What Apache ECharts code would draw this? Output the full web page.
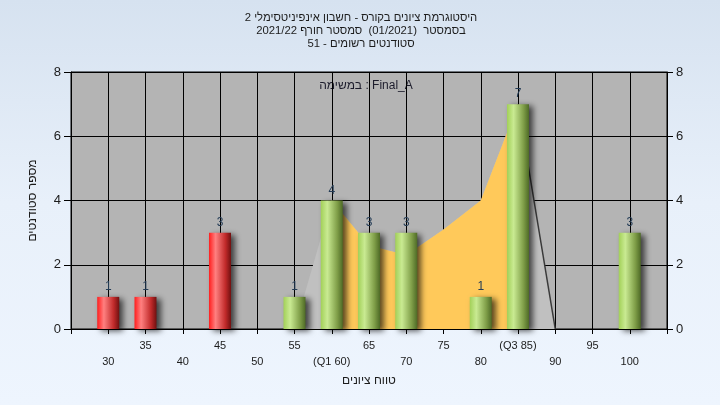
<!DOCTYPE html>
<html><head><meta charset="utf-8">
<script src="https://cdn.jsdelivr.net/npm/echarts@6/dist/echarts.min.js"></script>
<style>
html,body{margin:0;padding:0;}
body{width:720px;height:405px;background:linear-gradient(180deg,#d6e2f0 0%,#e8f0fa 50%,#eef5fe 100%);}
#c{width:720px;height:405px;}
</style>
</head><body><div id="c"></div>
<script>
// ---- data ----
const categories = ['25','30','35','40','45','50','55','60','65','70','75','80','85','90','95','100','105'];
const tickLabels = ['','30','35','40','45','50','55','(Q1 60)','65','70','75','80','(Q3 85)','90','95','100',''];
const counts = [null,1,1,null,3,null,1,4,3,3,null,1,7,null,null,3,null];
const polygonAll = [null,null,null,null,null,null,0,4,2.6,2.3,3.1,4,7,0,null,null,null];
const iqrArea = [null,null,null,null,null,null,null,4,2.6,2.3,3.1,4,7,null,null,null,null];
const dropLine = [null,null,null,null,null,null,null,null,null,null,null,null,7,0,null,null,null];
const passMark = 55;
const titleLines = [
  'היסטוגרמת ציונים בקורס - חשבון אינפיניטסימלי 2',
  'בסמסטר  (01/2021)  סמסטר חורף 2021/22',
  'סטודנטים רשומים - 51'
];
const taskText = 'במשימה : Final_A';
const yName = 'מספר סטודנטים';
const xName = 'טווח ציונים';

const FONT = '"Liberation Sans", Arial, sans-serif';
const TITLE_SIZE = 11.3;

// title lines laid out right-to-left, one word at a time
const mctx = document.createElement('canvas').getContext('2d');
mctx.font = TITLE_SIZE + 'px ' + FONT;
const titleGraphics = [];
titleLines.forEach((line, li) => {
  const toks = line.split(' ');
  const sp = mctx.measureText(' ').width;
  const widths = toks.map(t => t ? mctx.measureText(t).width : 0);
  const total = widths.reduce((a, b) => a + b, 0) + sp * (toks.length - 1);
  let xr = 361 + total / 2;
  toks.forEach((t, i) => {
    xr -= widths[i];
    if (t) titleGraphics.push({
      type: 'text', x: xr, y: 18 + li * 13, silent: true,
      style: { text: t, fontSize: TITLE_SIZE, fontFamily: FONT, fill: '#1c1c1c', align: 'left', verticalAlign: 'middle' }
    });
    xr -= sp;
  });
});

const redGrad = new echarts.graphic.LinearGradient(0,0,1,0,[
  {offset:0,color:'#ff1e1e'},{offset:0.3,color:'#ff8080'},{offset:0.75,color:'#c02a2a'},{offset:1,color:'#701010'}]);
const greenGrad = new echarts.graphic.LinearGradient(0,0,1,0,[
  {offset:0,color:'#a2d058'},{offset:0.3,color:'#c9ea92'},{offset:0.75,color:'#7f9e48'},{offset:1,color:'#4e6a26'}]);

const barData = counts.map((v,i) => v == null ? null : {
  value: v,
  itemStyle: { color: (+categories[i] < passMark) ? redGrad : greenGrad }
});

const chart = echarts.init(document.getElementById('c'), null, {renderer:'canvas'});
chart.setOption({
  animation: false,
  backgroundColor: 'transparent',
  textStyle: { fontFamily: FONT },
  graphic: titleGraphics.concat([{
    type: 'text', x: 366, y: 86, silent: true,
    style: { text: taskText, fontSize: 12, fill: '#1c1c2c', fontFamily: FONT, align: 'center', verticalAlign: 'middle' }
  }]),
  grid: { left: 71, right: 53, top: 72, bottom: 76, show: true, backgroundColor: '#b4b4b4', borderColor: '#000', borderWidth: 1, containLabel: false },
  xAxis: {
    type: 'category', data: categories, boundaryGap: false,
    name: xName, nameLocation: 'middle', nameGap: 46,
    nameTextStyle: { fontSize: 12, color: '#1c1c1c' },
    axisLine: { lineStyle: { color: '#000', width: 1 } },
    axisTick: { show: true, interval: 0, length: 5, lineStyle: { color: '#000' } },
    axisLabel: {
      interval: 0, margin: 9, fontSize: 11, color: '#1c1c1c', lineHeight: 16,
      formatter: (v, i) => (i % 2 === 1 ? '\n' : '') + tickLabels[i]
    },
    splitLine: { show: true, interval: 0, lineStyle: { color: '#000', width: 1 } }
  },
  yAxis: [{
    type: 'value', min: 0, max: 8, interval: 2, position: 'left',
    name: yName, nameLocation: 'middle', nameGap: 32,
    nameTextStyle: { fontSize: 12, color: '#1c1c1c' },
    axisLine: { show: true, lineStyle: { color: '#000' } },
    axisTick: { show: true, length: 7, lineStyle: { color: '#000' } },
    axisLabel: { fontSize: 13, color: '#1c1c1c', margin: 10 },
    splitLine: { show: true, lineStyle: { color: '#000', width: 1 } }
  }, {
    type: 'value', min: 0, max: 8, interval: 2, position: 'right',
    axisLine: { show: true, lineStyle: { color: '#000' } },
    axisTick: { show: true, length: 6, lineStyle: { color: '#000' } },
    axisLabel: { fontSize: 13, color: '#1c1c1c', margin: 9 },
    splitLine: { show: false }
  }],
  series: [{
    type: 'line', data: polygonAll, showSymbol: false, symbol: 'none',
    lineStyle: { width: 0 }, areaStyle: { color: '#c0c0c0', opacity: 1 }, z: 1, silent: true
  }, {
    type: 'line', data: iqrArea, showSymbol: false, symbol: 'none',
    lineStyle: { width: 0 }, areaStyle: { color: '#ffc95a', opacity: 1 }, z: 2, silent: true
  }, {
    type: 'line', data: dropLine, showSymbol: false, symbol: 'none',
    lineStyle: { width: 1.5, color: '#3a3a3a' }, z: 3, silent: true
  }, {
    type: 'bar', data: barData, barWidth: 22, z: 5,
    itemStyle: { shadowColor: 'rgba(0,0,0,0.65)', shadowBlur: 6, shadowOffsetX: 4, shadowOffsetY: 2 },
    label: { show: true, position: 'top', distance: 4, fontSize: 12, color: '#243c56' }
  }]
});
</script></body></html>
